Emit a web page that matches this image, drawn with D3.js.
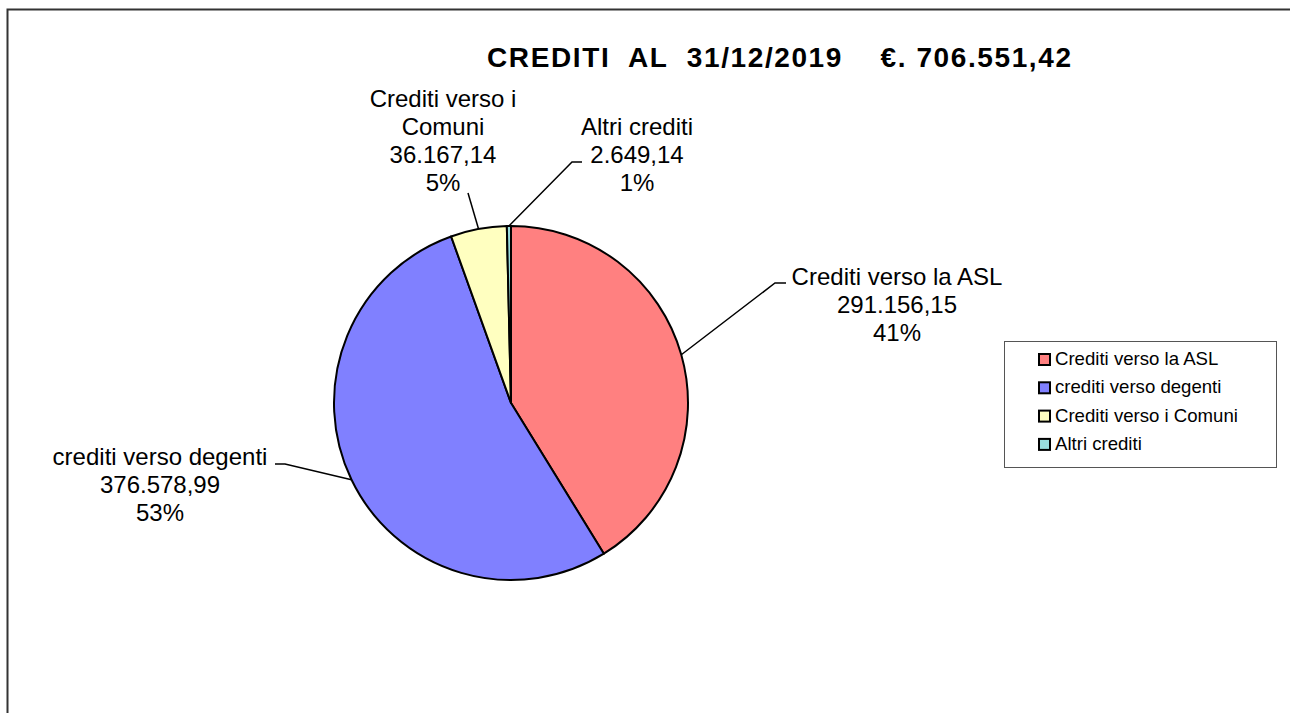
<!DOCTYPE html>
<html>
<head>
<meta charset="utf-8">
<script src="https://cdn.jsdelivr.net/npm/d3@7"></script>
<style>
  body { margin: 0; background: #fff; }
  svg { display: block; font-family: "Liberation Sans", Arial, sans-serif; }
</style>
</head>
<body>
<svg id="chart" width="1290" height="713"></svg>
<script>
// data
const categories = ["Crediti verso la ASL", "crediti verso degenti", "Crediti verso i Comuni", "Altri crediti"];
const values = [291156.15, 376578.99, 36167.14, 2649.14];
const pctLabels = ["41%", "53%", "5%", "1%"];
// label text lines as shown on the chart (name may wrap)
const nameLines = [["Crediti verso la ASL"], ["crediti verso degenti"], ["Crediti verso i", "Comuni"], ["Altri crediti"]];
const colors = ["#FF8080", "#8080FF", "#FFFFC0", "#99DDDD"];
const title = "CREDITI  AL  31/12/2019    €. 706.551,42";

// label layout: text centre x, first baseline y, elbow point, end of leader
const labelLayout = [
  { x: 897, y: 285, elbow: [775, 283], end: [786, 283] },
  { x: 160, y: 465, elbow: [285, 464], end: [275, 464] },
  { x: 443, y: 107, elbow: [468, 193], end: [468, 193] },
  { x: 637, y: 135, elbow: [572, 162], end: [582, 162] }
];

const it = d3.formatLocale({ decimal: ",", thousands: ".", grouping: [3], currency: ["€", ""] });
const fmt = it.format(",.2f");

const svg = d3.select("#chart");
const cx = 511, cy = 403, r = 177;

// outer frame (runs off the right and bottom edges)
svg.append("rect")
  .attr("x", 7.5).attr("y", 9.5)
  .attr("width", 1300).attr("height", 720)
  .attr("fill", "none").attr("stroke", "#333").attr("stroke-width", 2);

svg.append("text")
  .attr("x", 487).attr("y", 67)
  .attr("font-size", 28).attr("font-weight", "bold")
  .attr("textLength", 584).attr("lengthAdjust", "spacing")
  .style("white-space", "pre")
  .text(title);

const pie = d3.pie().sort(null).value(d => d)(values);
const arc = d3.arc().innerRadius(0).outerRadius(r);

const g = svg.append("g").attr("transform", `translate(${cx},${cy})`);
g.selectAll("path")
  .data(pie)
  .join("path")
  .attr("d", arc)
  .attr("fill", (d, i) => colors[i])
  .attr("stroke", "#000")
  .attr("stroke-width", 2)
  .attr("stroke-linejoin", "round");

// leader lines from the slice edge at its mid angle
pie.forEach((d, i) => {
  const a = (d.startAngle + d.endAngle) / 2;
  const p0 = [cx + r * Math.sin(a), cy - r * Math.cos(a)];
  const L = labelLayout[i];
  svg.append("polyline")
    .attr("points", [p0, L.elbow, L.end].map(p => p.join(",")).join(" "))
    .attr("fill", "none")
    .attr("stroke", "#000")
    .attr("stroke-width", 1.5);

  const lines = nameLines[i].concat([fmt(values[i]), pctLabels[i]]);
  const t = svg.append("text")
    .attr("text-anchor", "middle")
    .attr("font-size", 24)
    .attr("fill", "#000");
  lines.forEach((s, k) => {
    t.append("tspan").attr("x", L.x).attr("y", L.y + k * 28).text(s);
  });
});

// legend
const lg = svg.append("g").attr("transform", "translate(1004,341)");
lg.append("rect")
  .attr("x", 0.5).attr("y", 0.5).attr("width", 272).attr("height", 126)
  .attr("fill", "#fff").attr("stroke", "#555").attr("stroke-width", 1);
const item = lg.selectAll("g.item")
  .data(categories)
  .join("g")
  .attr("class", "item")
  .attr("transform", (d, i) => `translate(35,${24 + i * 28.3})`);
item.append("rect")
  .attr("x", 0).attr("y", -11).attr("width", 11).attr("height", 11)
  .attr("fill", (d, i) => colors[i])
  .attr("stroke", "#000").attr("stroke-width", 2);
item.append("text")
  .attr("x", 16).attr("y", 0)
  .attr("font-size", 18.6)
  .text(d => d);
</script>
</body>
</html>
